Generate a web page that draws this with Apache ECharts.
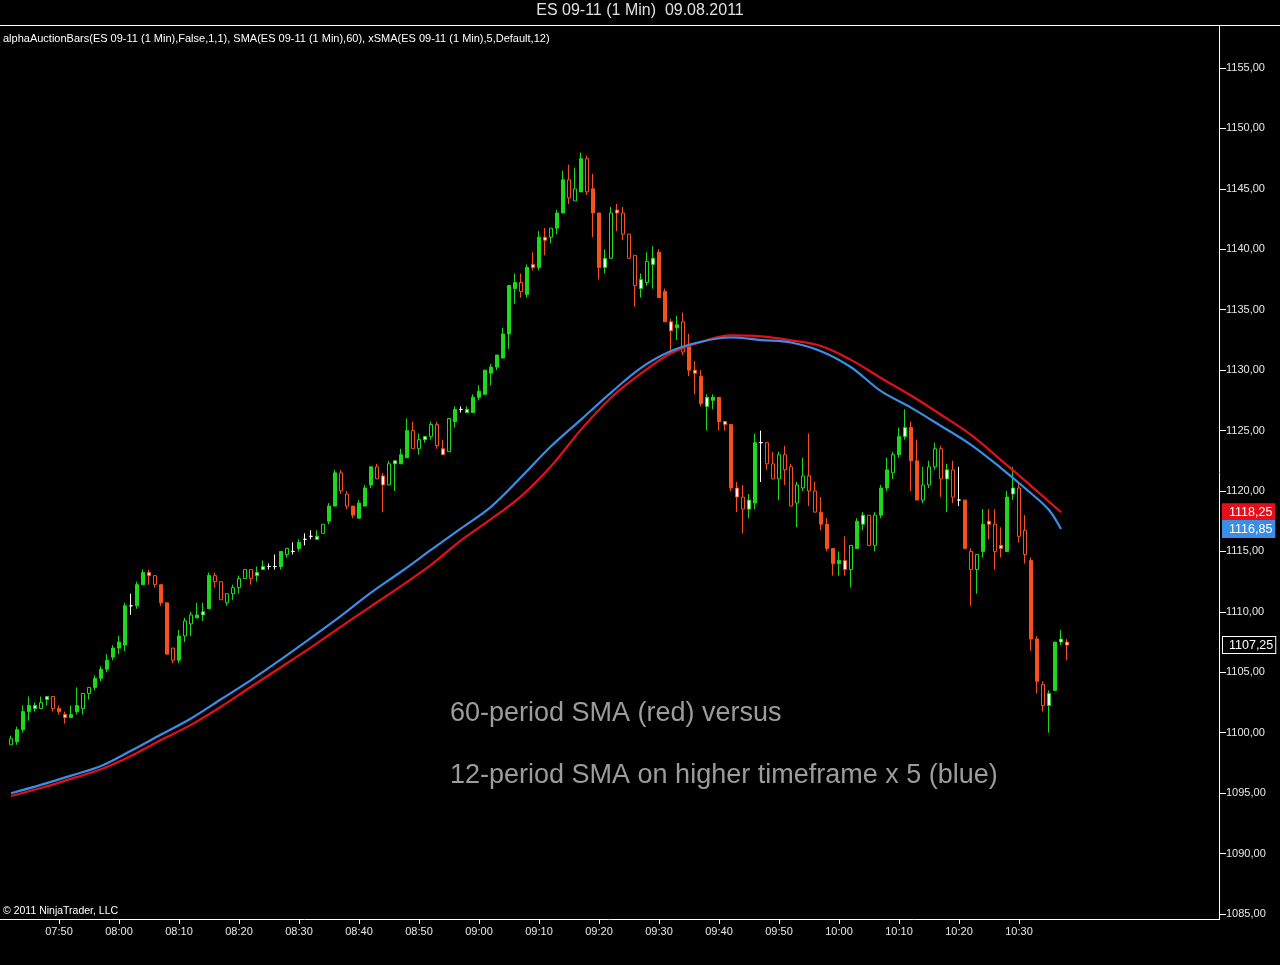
<!DOCTYPE html>
<html>
<head>
<meta charset="utf-8">
<title>ES 09-11 (1 Min) 09.08.2011</title>
<script src="https://cdn.jsdelivr.net/npm/echarts@6/dist/echarts.min.js"></script>
<style>
  html, body { margin: 0; padding: 0; background: #000; }
  #chart { width: 1280px; height: 965px; }
</style>
</head>
<body>
<div id="chart"></div>
<script>
// 1-minute bars from 07:42, [open, high, low, close]
var bars = [
  [1099,1099.75,1099,1099.5],[1099.25,1100.5,1099,1100.25],[1100.25,1102.25,1100,1101.75],[1101.75,1103,1101,1102.25],
  [1102,1102.5,1101.75,1102.25],[1102,1103,1102,1102.5],[1102.75,1103,1102.25,1103],[1103,1103,1101.75,1102],
  [1102,1102.25,1101.5,1101.75],[1101.5,1101.75,1100.75,1101.25],[1101.25,1102.25,1101.25,1101.5],[1101.75,1103.75,1101.5,1102.25],
  [1102,1103.25,1101.5,1103.25],[1103.25,1103.75,1102.75,1103.75],[1103.75,1104.75,1103.5,1104.5],[1104.5,1105.5,1104.25,1105.25],
  [1105.25,1106.5,1105,1106],[1106.25,1107.25,1106,1107],[1107,1108,1106.5,1107.5],[1107.25,1110.75,1106.75,1110.5],
  [1110.5,1111.5,1109.75,1110.5],[1110.5,1112.5,1110.25,1112.25],[1112.25,1113.5,1112.25,1113.25],[1113.25,1113.5,1112.25,1113],
  [1113,1113,1112,1112.25],[1112.25,1112.25,1110.5,1110.75],[1110.75,1110.75,1106.5,1106.5],[1107,1107,1105.75,1106],
  [1106,1108.5,1105.75,1108],[1108,1109.5,1107.5,1109.25],[1109,1110,1108,1109.75],[1109.5,1110.75,1109.5,1109.75],
  [1109.75,1110.75,1109.25,1110],[1110.25,1113.25,1110.25,1113],[1113,1113.25,1112,1112.5],[1112.5,1112.5,1111,1111],
  [1110.75,1111.5,1110.5,1111.5],[1111.5,1112.25,1111,1112],[1112,1113,1111.5,1112.75],[1112.75,1113.5,1112.75,1113.5],
  [1113.5,1113.5,1112.25,1112.75],[1113,1113.75,1112.5,1113.25],[1113.5,1114.25,1113.5,1113.75],[1113.75,1114,1113.5,1113.75],
  [1113.75,1114.75,1113.5,1113.75],[1113.75,1115,1113.5,1115],[1114.75,1115.25,1114.5,1115.25],[1115,1115.75,1114.75,1115],
  [1115.25,1116,1115,1115.75],[1116,1116.5,1115.5,1116],[1116.25,1116.75,1116,1116.25],[1116,1116.75,1116,1116.25],
  [1116.5,1117.25,1116.5,1117.25],[1117.5,1119,1117.25,1118.75],[1118.75,1121.75,1118.75,1121.5],[1121.5,1121.75,1119.75,1120],
  [1119.75,1120,1118.5,1118.75],[1118.75,1118.75,1117.75,1118],[1117.75,1119.25,1117.75,1119],[1118.75,1120.5,1118.75,1120.25],
  [1120.5,1122,1120.25,1122],[1122,1122.25,1121,1121],[1121.25,1121.5,1118.25,1120.5],[1120.5,1122.5,1120.5,1122.25],
  [1122.25,1122.5,1120,1122.5],[1122.25,1123.5,1122.25,1123],[1122.75,1126,1122.75,1125],[1125,1125.75,1123.5,1123.5],
  [1123.5,1124.75,1123,1124.25],[1124.25,1124.5,1124,1124.5],[1124.5,1125.75,1124.25,1125.5],[1125.5,1125.75,1123.5,1123.75],
  [1123.5,1124.25,1123,1123],[1123.25,1126,1123.25,1126],[1125.75,1127,1125.25,1126.75],[1126.75,1127,1126.5,1126.75],
  [1126.5,1127,1126.5,1126.75],[1126.5,1128,1126.5,1127.75],[1127.75,1128.75,1127.5,1128.25],[1128,1130,1128,1130],
  [1129.75,1130.5,1128.75,1130.25],[1130.25,1131.25,1130,1131.25],[1131,1133.5,1131,1133],[1133,1137,1131.75,1137],
  [1136.75,1138,1135.5,1137.25],[1137.25,1138,1136,1136.5],[1136.25,1138.75,1136,1138.5],[1138.75,1139.75,1138.25,1138.5],
  [1138.5,1141.5,1138.25,1141],[1141,1141.75,1139.5,1140.75],[1141,1141.75,1140.5,1141.75],[1141.75,1143.25,1141.25,1143],
  [1143,1146.5,1143,1145.75],[1145.75,1147,1143.75,1144.25],[1144,1146.75,1144,1145],[1144.75,1148,1144.75,1147.5],
  [1147.5,1147.75,1144.5,1144.75],[1145,1146.25,1141,1143],[1143,1143,1137.5,1138.5],[1138.5,1140,1138,1139.25],
  [1139.25,1143.5,1139.25,1143],[1143.25,1143.75,1141.5,1143],[1143,1143.5,1140.75,1141.25],[1141.25,1141.25,1139.25,1139.25],
  [1139.5,1139.5,1135.25,1137],[1136.75,1138,1136,1137.5],[1137.25,1139.75,1137,1139],[1138.75,1140.25,1136.75,1139.25],
  [1139.75,1140,1136,1136],[1136.5,1136.75,1134,1134],[1134,1134.25,1131.5,1133.25],[1133.5,1134.5,1132.5,1133.75],
  [1134,1134.75,1131.25,1131.5],[1132,1133,1129.5,1130],[1130,1130.75,1128,1129.75],[1129.5,1130,1127,1127.25],
  [1127,1128,1125,1127.75],[1127.5,1128,1126.75,1127.75],[1127.75,1127.75,1125,1125.75],[1125.75,1125.75,1125,1125.5],
  [1125.5,1125.5,1120,1120.25],[1120.25,1120.75,1118.25,1119.5],[1119.5,1120.5,1116.5,1118.5],[1118.5,1119.75,1117.75,1119.25],
  [1119,1124.75,1118.5,1124],[1124,1125,1120.75,1124],[1124,1124,1121.75,1122.25],[1122.25,1123.25,1121,1121],
  [1121,1123.25,1119.25,1123],[1123,1123.75,1120.5,1121.75],[1122,1122.25,1118.75,1118.75],[1119,1120.75,1117,1120.5],
  [1120.25,1122.75,1120,1121.25],[1121.25,1124.75,1118.75,1120],[1120,1120.75,1118.25,1118.25],[1118.25,1119.5,1116.75,1117.25],
  [1117.25,1117.75,1115,1115.25],[1115.25,1115.25,1113,1114],[1114,1115,1113,1114.25],[1114.25,1116.25,1113,1113.5],
  [1113.5,1115.5,1112,1115.5],[1115.25,1117.75,1115.25,1117.5],[1117.25,1118.25,1116.75,1118],[1118,1118,1115.5,1115.5],
  [1115.5,1118.25,1115,1118],[1118,1120.5,1117.75,1120.25],[1120.25,1122.75,1120,1121.75],[1121.5,1123.25,1121,1123],
  [1123,1125.25,1122.75,1124.5],[1124.5,1126.75,1124.25,1125.25],[1125.25,1125.75,1120,1122.5],[1122.5,1124.25,1119.25,1119.25],
  [1119.25,1122,1119,1120.5],[1120.5,1122.5,1120.25,1122],[1122,1124,1121.75,1123.5],[1123.5,1123.75,1119.5,1121],
  [1121,1122.25,1118.25,1121.75],[1121.75,1122.5,1119,1119.5],[1119.25,1122,1118.75,1119.25],[1119.25,1119.25,1115.25,1115.25],
  [1115,1115.25,1110.5,1113.5],[1113.5,1114.75,1111.5,1114.75],[1115,1118.5,1114.5,1117.25],[1117.5,1118.5,1116,1117.25],
  [1117.25,1118.5,1113.5,1115],[1115.5,1117,1114.5,1115.25],[1115,1120,1115,1119.5],[1119.75,1122,1119.25,1120.25],
  [1120.25,1120.75,1115.75,1116.25],[1116.75,1118,1114,1114.75],[1114.25,1114.5,1106.75,1107.75],[1107.75,1108,1103.25,1104.25],
  [1104,1104.25,1101.75,1102.25],[1102.25,1103.5,1100,1103.25],[1103.5,1107.5,1103.5,1107.5],[1107.5,1108.5,1107.25,1107.75],
  [1107.5,1107.75,1106,1107.25]
];
// body kind per bar: F filled, H hollow, W light centre, D doji
var barKind = ('HFFFWHWHFW' + 'FFHHFFFFFF' + 'DFFWHFFHFH' + 'HFWFHHHHHH' + 'HWWDDFHDFD' +
  'DWHFFHHFFF' + 'FHWHWFFHHW' + 'HHWHFDWFFF' + 'FFFFFHFWFW' + 'HFFHHFHFFW' +
  'HWHHHWHWFF' + 'WFHFWFWFFW' + 'FWHWFDHHHH' + 'HHHHHFFFFW' + 'HFWHHFFHFW' +
  'FFHHHHWHDF' + 'HHFWHWFWHH' + 'FFHWFWW').split('');

var smaTimes = ['07:42','07:47','07:52','07:57','08:02','08:07','08:12','08:17','08:22','08:27',
  '08:32','08:37','08:42','08:47','08:52','08:57','09:02','09:07','09:12','09:17',
  '09:22','09:27','09:32','09:37','09:42','09:47','09:52','09:57','10:02','10:07',
  '10:12','10:17','10:22','10:27','10:32','10:35','10:37'];
var sma60 = [1094.76,1095.42,1096.18,1096.97,1098.07,1099.40,1100.65,1102.15,1103.80,1105.42,
  1107.06,1108.78,1110.46,1112.13,1113.89,1115.92,1117.67,1119.56,1122.04,1125.08,
  1127.72,1129.73,1131.39,1132.33,1132.87,1132.79,1132.47,1132.00,1130.85,1129.35,
  1127.90,1126.31,1124.64,1122.56,1120.43,1119.12,1118.25];
var xsma12 = [1094.99,1095.68,1096.45,1097.25,1098.51,1099.85,1101.18,1102.77,1104.35,1106.07,
  1107.85,1109.67,1111.59,1113.32,1115.12,1116.91,1118.69,1121.13,1123.70,1125.91,
  1128.14,1130.19,1131.58,1132.35,1132.70,1132.49,1132.29,1131.57,1130.24,1128.26,
  1126.90,1125.38,1123.82,1121.90,1119.81,1118.43,1116.85];

var yTicks = { min: 1085, max: 1155, step: 5 };

// time slots 07:42 onward (bars plus empty space to the right)
var slotCount = 202;
var startMin = 7 * 60 + 42;
function pad(n) { return (n < 10 ? '0' : '') + n; }
var slots = [];
for (var s = 0; s < slotCount; s++) {
  var m = startMin + s;
  slots.push(pad(Math.floor(m / 60)) + ':' + pad(m % 60));
}

var upCol = '#1ed81e', dnCol = '#f5501e', dojiCol = '#ffffff';
var fontFam = '"Liberation Sans", Arial, sans-serif';

function fmt(v) { return Number(v).toFixed(2).replace('.', ','); }

var candleData = bars.map(function (b, i) {
  var o = b[0], h = b[1], l = b[2], c = b[3];
  var col = c > o ? upCol : (c < o ? dnCol : dojiCol);
  var kind = barKind[i];
  var fill = col;
  if (kind === 'H') fill = '#000000';
  else if (kind === 'W') fill = '#f4f4f4';
  return {
    value: [o, c, l, h],
    itemStyle: { color: fill, color0: fill, borderColor: col, borderColor0: col, borderWidth: 1 }
  };
});

// price tag at the right axis
function tag(value, bg, border) {
  return {
    silent: true, symbol: ['none', 'none'],
    lineStyle: { color: 'rgba(0,0,0,0)', width: 0 },
    label: {
      show: true, position: 'end', distance: 3,
      formatter: function () { return fmt(value); },
      color: '#fff', backgroundColor: bg, borderColor: border, borderWidth: 1,
      padding: [2, 2, 1, 6], fontSize: 12.5, fontFamily: fontFam
    },
    data: [{ yAxis: value }]
  };
}

// label every ten minutes, only where there are bars
function tenMin(idx, val) { return idx < bars.length && val.charAt(4) === '0'; }

var chart = echarts.init(document.getElementById('chart'));
chart.setOption({
  backgroundColor: '#000',
  animation: false,
  grid: { left: 8, right: 60, top: 68, bottom: 51 },
  xAxis: {
    type: 'category', data: slots, boundaryGap: true, offset: 5,
    axisLine: { show: false },
    axisTick: { show: true, interval: tenMin, alignWithLabel: true, length: 5, lineStyle: { color: '#fff' } },
    axisLabel: { interval: tenMin, color: '#e8e8e8', fontSize: 11, fontFamily: fontFam, margin: 7 },
    splitLine: { show: false }
  },
  yAxis: {
    type: 'value', position: 'right', min: yTicks.min, max: yTicks.max, interval: yTicks.step,
    axisLine: { show: false },
    axisTick: { show: true, length: 6, lineStyle: { color: '#fff' } },
    axisLabel: { color: '#e8e8e8', fontSize: 11, fontFamily: fontFam, margin: 6, formatter: fmt },
    splitLine: { show: false }
  },
  series: [
    {
      type: 'candlestick', barWidth: 4, data: candleData,
      markLine: tag(bars[bars.length - 1][3], '#000', '#ffffff')
    },
    {
      type: 'line', name: 'SMA 60', symbol: 'none', smooth: 0.35,
      data: smaTimes.map(function (t, i) { return [t, sma60[i]]; }),
      lineStyle: { color: '#e3101c', width: 2.2 },
      markLine: tag(sma60[sma60.length - 1], '#e3101c', '#e3101c')
    },
    {
      type: 'line', name: 'xSMA 12', symbol: 'none', smooth: 0.35,
      data: smaTimes.map(function (t, i) { return [t, xsma12[i]]; }),
      lineStyle: { color: '#3a8ee6', width: 2.2 },
      markLine: tag(xsma12[xsma12.length - 1], '#3a8ee6', '#3a8ee6')
    }
  ],
  graphic: [
    { type: 'line', shape: { x1: 0, y1: 25.5, x2: 1280, y2: 25.5 }, style: { stroke: '#fff', lineWidth: 1 }, silent: true },
    { type: 'line', shape: { x1: 1219.5, y1: 25, x2: 1219.5, y2: 920 }, style: { stroke: '#fff', lineWidth: 1 }, silent: true },
    { type: 'line', shape: { x1: 0, y1: 919.5, x2: 1219, y2: 919.5 }, style: { stroke: '#fff', lineWidth: 1 }, silent: true },
    { type: 'text', left: 'center', top: 3,
      style: { text: 'ES 09-11 (1 Min)  09.08.2011', fill: '#e0e0e0', font: '16px ' + fontFam } },
    { type: 'text', left: 3, top: 33,
      style: { text: 'alphaAuctionBars(ES 09-11 (1 Min),False,1,1), SMA(ES 09-11 (1 Min),60), xSMA(ES 09-11 (1 Min),5,Default,12)',
        fill: '#ffffff', font: '11px ' + fontFam } },
    { type: 'text', left: 3, top: 906,
      style: { text: '\u00a9 2011 NinjaTrader, LLC', fill: '#ffffff', font: '10.5px ' + fontFam } },
    { type: 'text', left: 450, top: 700,
      style: { text: '60-period SMA (red) versus', fill: '#9c9c9c', font: '27px ' + fontFam } },
    { type: 'text', left: 450, top: 762,
      style: { text: '12-period SMA on higher timeframe x 5 (blue)', fill: '#9c9c9c', font: '27px ' + fontFam } }
  ]
});
window.addEventListener('resize', function () { chart.resize(); });
</script>
</body>
</html>
